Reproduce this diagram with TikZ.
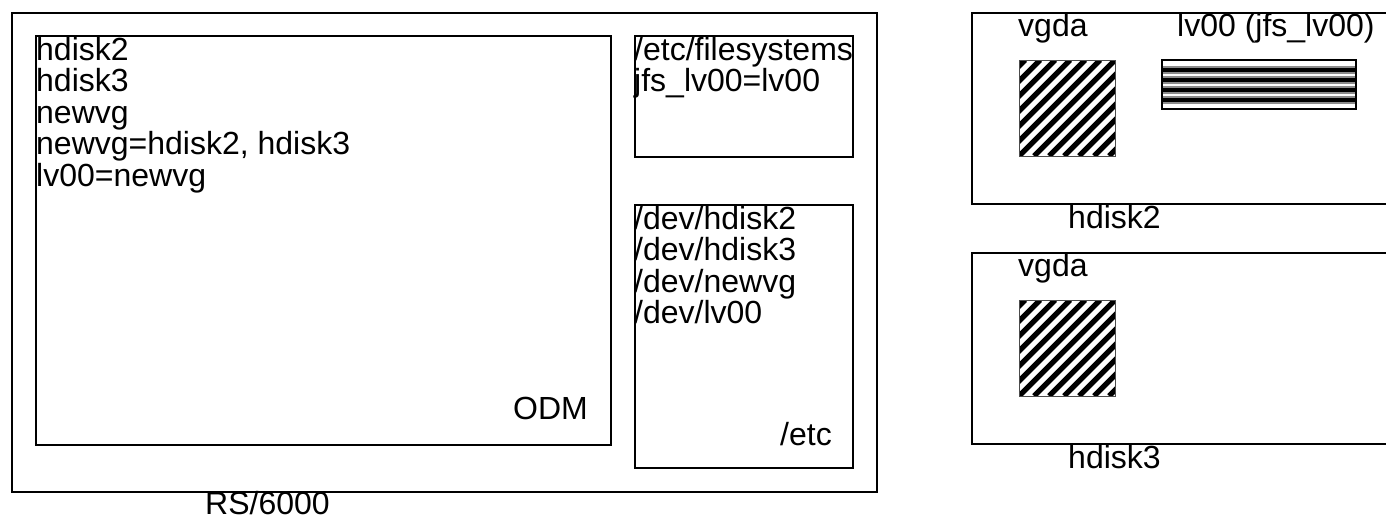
\documentclass[tikz,border=0pt]{standalone}
\usepackage{fontspec}
\setmainfont{Liberation Sans}
\begin{document}
\begin{tikzpicture}[x=1pt,y=-1pt,
  box/.style={draw, line width=2pt, inner sep=0pt, anchor=north west},
  lbl/.style={inner sep=0pt, font=\fontsize{32}{31.5}\selectfont, align=left},
  hatchsq/.style={draw=black!70, line width=1pt}]
\useasboundingbox (0,0) rectangle (1386,517);
\clip (0,0) rectangle (1386,517);
\fill[white] (0,0) rectangle (1386,517);

% RS/6000 machine
\node[box, minimum width=865pt, minimum height=479pt] (rs) at (11,12) {};
\node[box, minimum width=575pt, minimum height=409pt] (odm) at (35,35) {};
\node[box, minimum width=218pt, minimum height=121pt] (fs) at (634,35) {};
\node[box, minimum width=218pt, minimum height=263pt] (etc) at (634,204) {};

\node[lbl, anchor=north west] (odmtxt) at (36,37) {hdisk2\\hdisk3\\newvg\\newvg=hdisk2, hdisk3\\lv00=newvg};
\node[lbl, anchor=base east] (odmlbl) at (588,419) {ODM};
\node[lbl, anchor=north west] (fstxt) at (634,37) {/etc/filesystems\\jfs\_lv00=lv00};
\node[lbl, anchor=north west] (devtxt) at (634,206) {/dev/hdisk2\\/dev/hdisk3\\/dev/newvg\\/dev/lv00};
\node[lbl, anchor=base east] (etclbl) at (832,445) {/etc};
\node[lbl, anchor=base west] (rslbl) at (205,514) {RS/6000};

% disks
\node[box, minimum width=440pt, minimum height=191pt] (d2) at (971,12) {};
\node[box, minimum width=440pt, minimum height=191pt] (d3) at (971,252) {};

\node[lbl, anchor=base west] (vg2) at (1018,36) {vgda};
\node[lbl, anchor=base west] (lvlbl) at (1177,36) {lv00 (jfs\_lv00)};
\node[lbl, anchor=base west] (d2lbl) at (1068,228) {hdisk2};
\node[lbl, anchor=base west] (vg3) at (1018,276) {vgda};
\node[lbl, anchor=base west] (d3lbl) at (1068,468) {hdisk3};

% hatched vgda squares
\foreach \yy in {60,300}{
  \begin{scope}
    \clip (1019,\yy) rectangle (1115,\yy+96);
    \foreach \k in {-7,...,7}
      \draw[line width=5.3pt] ({1019+\k*15},\yy+96) -- ++(96,-96);
  \end{scope}
  \draw[hatchsq] (1019,\yy) rectangle (1115,\yy+96);
}

% striped lv00
\begin{scope}
  \clip (1162,60) rectangle (1356,109);
  \foreach \yy in {70,80,90,100}{
    \draw[black!45, line width=7.5pt] (1162,\yy) -- (1356,\yy);
    \draw[black, line width=4pt] (1162,\yy) -- (1356,\yy);
  }
\end{scope}
\draw[line width=2pt] (1162,60) rectangle (1356,109);
\end{tikzpicture}
\end{document}
